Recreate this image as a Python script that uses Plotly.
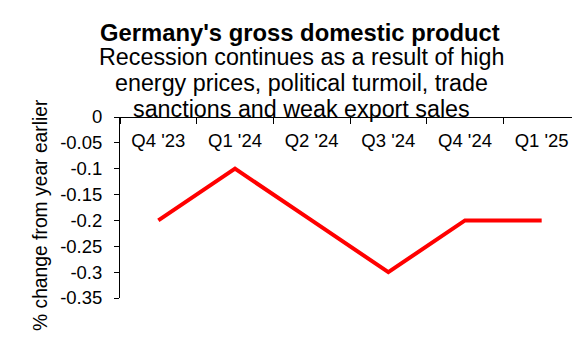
import plotly.graph_objects as go

quarters = ["Q4 '23", "Q1 '24", "Q2 '24", "Q3 '24", "Q4 '24", "Q1 '25"]
gdp_change = [-0.2, -0.1, -0.2, -0.3, -0.2, -0.2]
y_tickvals = [0, -0.05, -0.1, -0.15, -0.2, -0.25, -0.3, -0.35]
y_ticktext = ["0", "-0.05", "-0.1", "-0.15", "-0.2", "-0.25", "-0.3", "-0.35"]

title = "Germany's gross domestic product"
subtitle_lines = ["Recession continues as a result of high",
                  "energy prices, political turmoil, trade",
                  "sanctions and weak export sales"]
y_title = "% change from year earlier"

FONT = "Arial, Liberation Sans, sans-serif"
OFF = 8  # page body margin
W, H = 580 - OFF, 360 - OFF
ML, MR, MT, MB = 120 - OFF, 0, 117 - OFF, 62
plot_h = H - MT - MB
plot_w = W - ML - MR

def py(ypix):
    return (H - MB - (ypix - OFF)) / plot_h

def px(xpix):
    return ((xpix - OFF) - ML) / plot_w

fig = go.Figure()
fig.add_trace(go.Scatter(
    x=quarters, y=gdp_change, mode="lines",
    line=dict(color="#ff0000", width=4),
    hoverinfo="skip", showlegend=False,
))

annotations = [
    dict(text="<b>" + title + "</b>", x=px(300), y=py(32), xref="paper", yref="paper",
         xanchor="center", yanchor="middle", showarrow=False,
         font=dict(size=23.8, family=FONT, color="black")),
    dict(text=y_title, x=px(40), y=py(215), xref="paper", yref="paper",
         xanchor="center", yanchor="middle", showarrow=False, textangle=-90,
         font=dict(size=19.3, family=FONT, color="black")),
]
for yc, line in zip([57, 83, 109], subtitle_lines):
    annotations.append(dict(text=line, x=px(301), y=py(yc), xref="paper", yref="paper",
                            xanchor="center", yanchor="middle", showarrow=False,
                            font=dict(size=23.3, family=FONT, color="black")))

fig.update_layout(
    width=W, height=H,
    margin=dict(l=ML, r=MR, t=MT, b=MB, autoexpand=False),
    paper_bgcolor="white", plot_bgcolor="white",
    font=dict(family=FONT, color="black", size=18),
    xaxis=dict(
        type="category", side="bottom", anchor="free", position=1, range=[-0.5, 5.5],
        showline=True, linecolor="black", linewidth=1,
        ticks="outside", tickson="boundaries", ticklen=6, tickcolor="black",
        ticklabelstandoff=7,
        showgrid=False, zeroline=False,
        tickfont=dict(size=18.5, family=FONT, color="black"),
        automargin=False, fixedrange=True,
    ),
    yaxis=dict(
        range=[-0.35, 0], tickvals=y_tickvals, ticktext=y_ticktext,
        showline=True, linecolor="black", linewidth=1,
        ticks="outside", ticklen=5, tickcolor="black",
        ticklabelstandoff=8,
        showgrid=False, zeroline=False,
        tickfont=dict(size=18.5, family=FONT, color="black"),
        automargin=False, fixedrange=True,
    ),
    annotations=annotations,
)

fig.write_html("out.html")
